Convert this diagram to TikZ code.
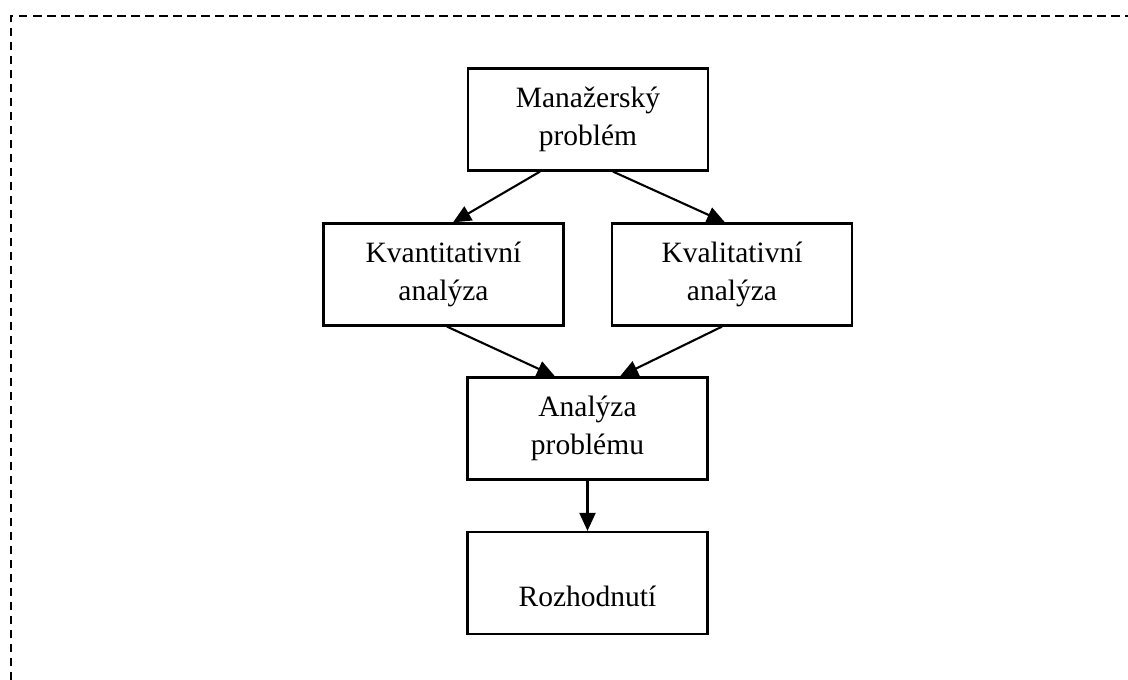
\documentclass[tikz,border=0pt]{standalone}
\usepackage{fontspec}
\setmainfont{Liberation Serif}
\usetikzlibrary{arrows.meta,calc}
\begin{document}
\begin{tikzpicture}[x=1pt,y=-1pt,
  box/.style={draw,line width=2.2pt,minimum width=240pt,minimum height=102pt,inner sep=0pt,align=center,font=\fontsize{29.5}{38.5}\selectfont},
  arr/.style={line width=2.1pt,-{Triangle[length=18pt,width=16pt]}},
  frame/.style={line width=2.2pt,dash pattern=on 8.5pt off 5.5pt}]
\useasboundingbox (0,0) rectangle (1128,680);
\draw[frame] (11,680) -- (11,16) -- (1128,16);
\node[box] (M) at (588,119.5) {Manažerský\\problém};
\node[box] (Kn) at (443.5,274.5) {Kvantitativní\\analýza};
\node[box] (Kl) at (732,274.5) {Kvalitativní\\analýza};
\node[box] (A) at (587.5,428.5) {Analýza\\problému};
\node[box] (R) at (587.5,583) {\raisebox{-13pt}[20pt][0pt]{Rozhodnutí}};
\draw[arr] ([xshift=-48pt]M.south) -- ([xshift=9.5pt]Kn.north);
\draw[arr] ([xshift=25pt]M.south) -- ([xshift=-7pt]Kl.north);
\draw[arr] ([xshift=3.5pt]Kn.south) -- ([xshift=-32.5pt]A.north);
\draw[arr] ([xshift=-10pt]Kl.south) -- ([xshift=32.5pt]A.north);
\draw[arr] (A.south) -- (R.north);
\end{tikzpicture}
\end{document}
